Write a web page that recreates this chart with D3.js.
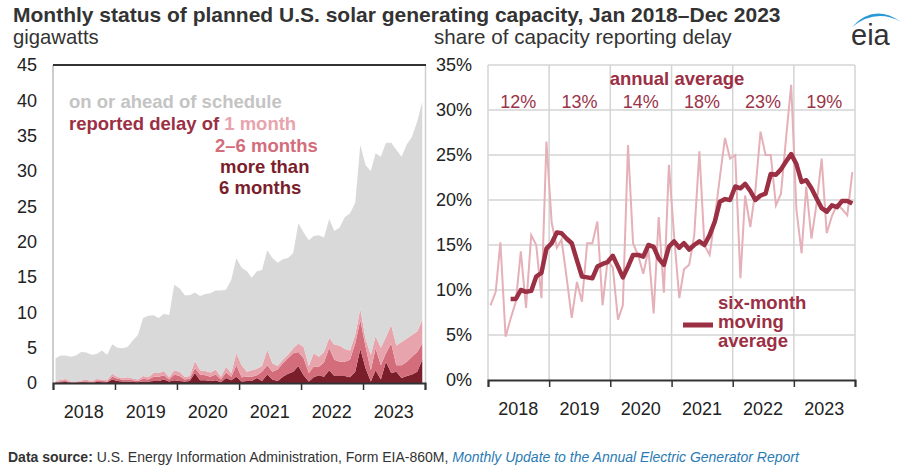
<!DOCTYPE html>
<html><head><meta charset="utf-8">
<script src="https://cdn.jsdelivr.net/npm/d3@7"></script>
<style>
body{margin:0;background:#fff;}
svg{font-family:"Liberation Sans",Arial,sans-serif;}
</style></head>
<body><svg id="c" width="912" height="466"></svg>
<script>
// ---------- data ----------
const years = ["2018","2019","2020","2021","2022","2023"];
const annualAverage = ["12%","13%","14%","18%","23%","19%"];
const yTicksLeft = [0,5,10,15,20,25,30,35,40,45];
const yTicksRight = [0,5,10,15,20,25,30,35];
const months = d3.timeMonth.range(new Date(2018,0,1), new Date(2024,0,1));

// gigawatts, by status (Jan 2018 - Dec 2023)
const delayMoreThan6 = [0.05,0.1,0.15,0.05,0.05,0.1,0.1,0.05,0.15,0.1,0.1,0.5,
 0.3,0.2,0.2,0.15,0.1,0.2,0.2,0.3,0.3,0.5,0.2,0.4,
 0.3,0.2,0.3,1.4,0.4,0.4,0.3,0.4,0.1,0.7,0.4,0.9,
 0.2,0.3,0.3,0.7,0.3,1.2,0.5,0.3,0.9,1.3,1.6,2.4,
 1.1,0.2,0.8,1.1,0.9,1.8,1.0,1.0,1.0,0.8,1.6,4.8,
 2.1,0.2,1.8,0.5,3.0,1.4,1.6,0.7,1.0,1.2,1.6,3.3];
const delay2to6 = [0.1,0.15,0.15,0.05,0.05,0.1,0.15,0.1,0.15,0.2,0.1,0.4,
 0.3,0.25,0.3,0.25,0.2,0.4,0.3,0.6,0.6,0.6,0.3,0.8,
 0.7,0.3,0.3,0.7,0.8,0.7,0.6,0.8,0.4,0.8,0.5,1.6,
 0.6,0.6,0.6,0.4,1.3,1.3,1.1,1.6,1.9,2.2,2.6,2.0,
 2.4,1.2,1.5,1.2,2.0,3.2,2.3,2.0,2.0,2.5,4.0,4.1,
 3.0,1.6,3.1,2.0,1.2,4.2,0.9,1.8,2.0,2.5,2.8,2.3];
const delay1 = [0.15,0.2,0.25,0.1,0.1,0.15,0.25,0.15,0.25,0.2,0.2,0.4,
 0.25,0.25,0.3,0.25,0.2,0.4,0.3,0.5,0.5,0.6,0.3,0.6,
 0.6,0.35,0.4,1.0,0.6,0.6,0.6,0.7,0.4,0.8,0.5,1.7,
 1.7,0.7,0.9,0.9,0.8,2.2,1.2,0.5,0.5,0.5,0.7,1.2,
 1.6,1.0,1.9,1.4,1.5,1.4,2.1,2.3,1.8,1.3,1.2,1.6,
 1.1,2.2,1.7,2.5,2.3,2.6,2.8,3.3,3.3,3.1,2.9,3.3];
const onSchedule = [3.2,3.45,3.35,3.5,3.7,4.05,3.8,3.7,3.55,4.1,3.6,4.2,
 4.15,4.2,4.3,5.35,6.3,8.2,8.7,8.2,7.8,8.1,8.8,12.1,
 11.8,11.55,11.4,9.7,10.5,10.9,11.2,11.2,12.2,10.9,13.2,13.5,
 13.8,14.2,13.1,13.8,13.6,14.1,14.9,14.6,14.2,13.7,13.5,17.0,
 16.2,17.8,16.6,17.2,16.2,16.8,16.1,16.7,18.7,19.4,18.7,23.2,
 24.6,26.0,25.9,27.0,27.5,25.8,27.7,26.2,27.5,28.0,29.7,30.9];

// share of capacity reporting delay (%)
const shareMonthly = [8.3,9.8,15.3,4.8,6.8,8.7,14.3,8.0,16.1,15.0,9.1,26.5,
 17.5,14.7,15.6,11.3,6.9,10.9,8.7,15.2,15.2,17.6,8.3,13.3,
 12.5,6.7,8.3,26.1,15.2,13.8,11.8,14.5,7.4,18.1,9.7,23.9,
 16.0,9.1,12.3,12.8,16.0,25.4,15.0,13.9,18.0,22.5,26.9,24.6,
 25.0,11.3,20.5,17.0,21.0,27.6,25.0,25.0,19.4,20.7,27.0,32.8,
 19.0,14.1,21.5,15.7,19.5,24.6,16.3,18.2,19.5,19.0,18.3,23.1];
const shareMovingAvg = [null,null,null,null,9.0,9.0,10.0,9.8,9.9,11.5,11.9,14.6,
 15.2,16.4,16.3,15.7,15.2,13.3,11.5,11.4,11.3,12.6,12.9,13.1,
 13.8,12.6,11.4,12.6,13.9,13.9,13.7,15.0,14.8,13.5,12.8,14.8,
 15.4,14.7,15.2,14.5,15.0,15.4,15.0,16.1,17.6,19.8,20.1,20.0,
 21.5,21.3,21.8,21.0,20.0,20.5,20.7,22.9,22.8,23.4,24.3,25.1,
 24.0,22.0,22.2,21.3,20.2,19.1,18.7,19.4,19.2,19.9,19.9,19.6];

// ---------- styles ----------
const C = {gray:"#d9d9d9", m1:"#e8a4ad", m26:"#d36d7c", m6:"#7b1e2c",
  thin:"#e5b0b8", thick:"#9b2f44", text:"#222", ann:"#9b3348", grid:"#d4d4d4"};

const svg = d3.select("#c");
const mid = d => d3.timeDay.offset(d, 15);
const yearStarts = d3.timeYear.range(new Date(2018,0,1), new Date(2024,0,2));

// ---------- titles ----------
svg.append("text").attr("x",13).attr("y",22).attr("font-size",21).attr("font-weight","bold")
  .attr("fill","#333").text("Monthly status of planned U.S. solar generating capacity, Jan 2018\u2013Dec 2023");
svg.append("text").attr("x",13).attr("y",44).attr("font-size",20.3).attr("fill","#333").text("gigawatts");
svg.append("text").attr("x",434).attr("y",44).attr("font-size",20.6).attr("fill","#333").text("share of capacity reporting delay");

// ---------- left panel ----------
const xL = d3.scaleTime().domain([new Date(2018,0,1), new Date(2024,0,1)]).range([53,425]);
const yL = d3.scaleLinear().domain([0,45]).range([383,65]);
const rows = months.map((m,i)=>({date:m, more6:delayMoreThan6[i], m26:delay2to6[i], m1:delay1[i], ontime:onSchedule[i]}));
const keys = ["more6","m26","m1","ontime"];
const colors = {more6:C.m6, m26:C.m26, m1:C.m1, ontime:C.gray};
const stack = d3.stack().keys(keys)(rows);
const area = d3.area().x(d=>xL(mid(d.data.date))).y0(d=>yL(d[0])).y1(d=>yL(d[1]));
const gL = svg.append("g");
gL.selectAll("path.layer").data(stack).join("path").attr("class","layer")
  .attr("d",area).attr("fill",d=>colors[d.key]);

// frame
gL.append("line").attr("x1",53).attr("x2",53).attr("y1",65).attr("y2",383).attr("stroke","#bdbdbd").attr("stroke-width",1.5);
gL.append("line").attr("x1",425.5).attr("x2",425.5).attr("y1",65).attr("y2",383).attr("stroke","#cfcfcf").attr("stroke-width",1.5);
gL.append("line").attr("x1",53).attr("x2",426).attr("y1",65).attr("y2",65).attr("stroke","#333").attr("stroke-width",2);

const axL = gL.append("g").attr("transform","translate(53,0)")
  .call(d3.axisLeft(yL).tickValues(yTicksLeft).tickSize(0).tickPadding(16));
axL.select(".domain").remove();
axL.selectAll("text").attr("font-size",18).attr("fill",C.text).attr("font-family","Liberation Sans, Arial, sans-serif");

const axLB = gL.append("g").attr("transform","translate(0,383)")
  .call(d3.axisBottom(xL).tickValues(yearStarts).tickSize(7).tickFormat(""));
axLB.select(".domain").attr("stroke","#333").attr("stroke-width",2);
axLB.selectAll(".tick line").attr("stroke","#333").attr("stroke-width",1.5);
gL.selectAll("text.yl").data(years).join("text").attr("class","yl")
  .attr("x",(d,i)=>xL(d3.timeMonth.offset(yearStarts[i],6))).attr("y",418)
  .attr("text-anchor","middle").attr("font-size",18).attr("fill",C.text).text(d=>d);

// legend left
const lg = svg.append("g").attr("font-weight","bold").attr("font-size",18.5);
lg.append("text").attr("x",69).attr("y",108).attr("fill","#c4c4c4").text("on or ahead of schedule");
const t2 = lg.append("text").attr("x",69).attr("y",130);
t2.append("tspan").attr("fill",C.thick).text("reported delay of ");
t2.append("tspan").attr("fill",C.m1).text("1 month");
lg.append("text").attr("x",215).attr("y",152).attr("fill",C.m26).text("2\u20136 months");
lg.append("text").attr("x",220).attr("y",173).attr("fill",C.m6).text("more than");
lg.append("text").attr("x",219).attr("y",194).attr("fill",C.m6).text("6 months");

// ---------- right panel ----------
const xR = d3.scaleTime().domain([new Date(2018,0,1), new Date(2024,0,1)]).range([488,855]);
const yR = d3.scaleLinear().domain([0,35]).range([380,65]);
const gR = svg.append("g");
gR.selectAll("line.hg").data(yTicksRight.filter(v=>v>0)).join("line").attr("class","hg")
  .attr("x1",488).attr("x2",855).attr("y1",d=>yR(d)).attr("y2",d=>yR(d)).attr("stroke",C.grid).attr("stroke-width",1.5);
gR.selectAll("line.vg").data(yearStarts).join("line").attr("class","vg")
  .attr("x1",d=>xR(d)).attr("x2",d=>xR(d)).attr("y1",65).attr("y2",380).attr("stroke",C.grid).attr("stroke-width",1.5);

const axR = gR.append("g").attr("transform","translate(488,0)")
  .call(d3.axisLeft(yR).tickValues(yTicksRight).tickSize(0).tickPadding(16).tickFormat(d=>d+"%"));
axR.select(".domain").remove();
axR.selectAll("text").attr("font-size",18).attr("fill",C.text).attr("font-family","Liberation Sans, Arial, sans-serif");
const axRB = gR.append("g").attr("transform","translate(0,380)")
  .call(d3.axisBottom(xR).tickValues(yearStarts).tickSize(7).tickFormat(""));
axRB.select(".domain").attr("stroke","#333").attr("stroke-width",2);
axRB.selectAll(".tick line").attr("stroke","#333").attr("stroke-width",1.5);
gR.selectAll("text.yl").data(years).join("text").attr("class","yl")
  .attr("x",(d,i)=>xR(d3.timeMonth.offset(yearStarts[i],6))).attr("y",415)
  .attr("text-anchor","middle").attr("font-size",18).attr("fill",C.text).text(d=>d);

const lineThin = d3.line().x((d,i)=>xR(mid(months[i]))).y(d=>yR(d));
gR.append("path").attr("d",lineThin(shareMonthly)).attr("fill","none").attr("stroke",C.thin).attr("stroke-width",2);
const lineThick = d3.line().defined(d=>d!=null).x((d,i)=>xR(mid(months[i]))).y(d=>yR(d));
gR.append("path").attr("d",lineThick(shareMovingAvg)).attr("fill","none").attr("stroke",C.thick)
  .attr("stroke-width",4.5).attr("stroke-linejoin","round");

// annotations right
gR.append("text").attr("x",677).attr("y",85).attr("text-anchor","middle").attr("font-size",18.5)
  .attr("font-weight","bold").attr("fill",C.thick).text("annual average");
gR.selectAll("text.aa").data(annualAverage).join("text").attr("class","aa")
  .attr("x",(d,i)=>xR(d3.timeMonth.offset(yearStarts[i],6))).attr("y",108)
  .attr("text-anchor","middle").attr("font-size",18).attr("fill",C.ann).text(d=>d);
gR.append("line").attr("x1",683).attr("x2",713).attr("y1",325).attr("y2",325).attr("stroke",C.thick).attr("stroke-width",5);
const leg2 = gR.append("g").attr("font-size",18.5).attr("font-weight","bold").attr("fill",C.thick);
["six-month","moving","average"].forEach((t,i)=>leg2.append("text").attr("x",718).attr("y",309+i*19).text(t));

// ---------- footer ----------
const ft = svg.append("text").attr("x",8).attr("y",462).attr("font-size",14).attr("fill","#333");
ft.append("tspan").attr("font-weight","bold").text("Data source:");
ft.append("tspan").text(" U.S. Energy Information Administration, Form EIA-860M, ");
ft.append("tspan").attr("font-style","italic").attr("fill","#2b7bb5").text("Monthly Update to the Annual Electric Generator Report");

// ---------- logo ----------
svg.append("path").attr("d","M852,27 Q874,3 901,22 Q876,8 852,27 Z").attr("fill","#2a9ad6");
svg.append("text").attr("x",851).attr("y",45).attr("font-size",29).attr("fill","#333").text("eia");
</script></body></html>
